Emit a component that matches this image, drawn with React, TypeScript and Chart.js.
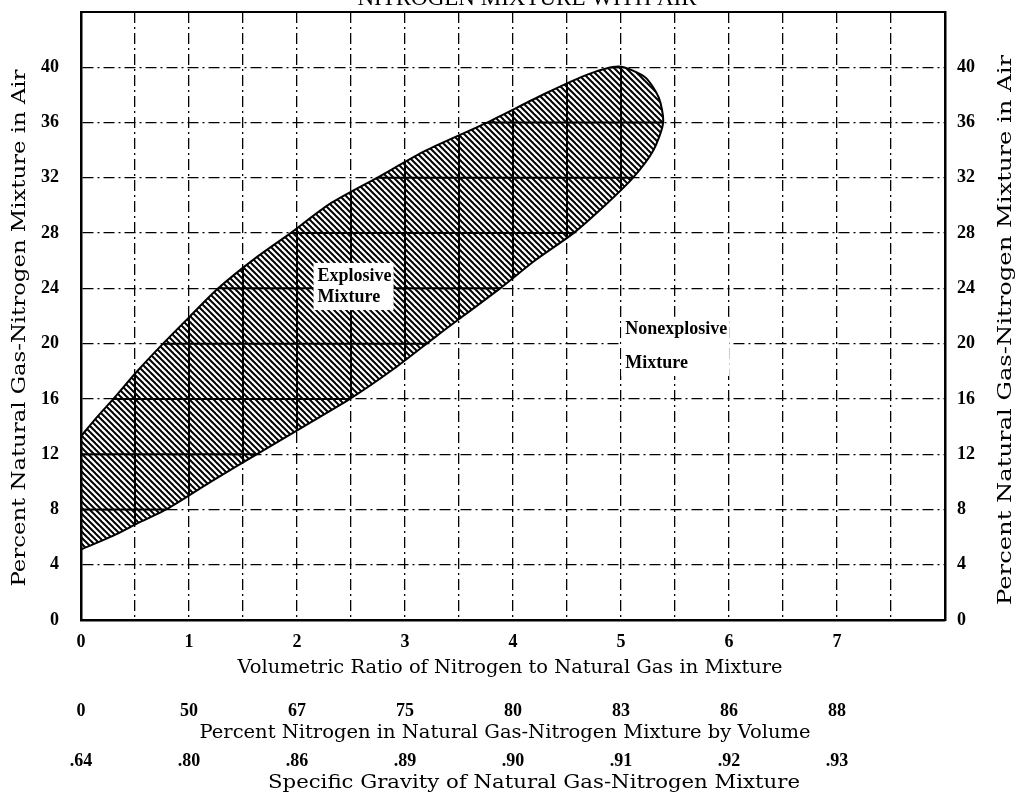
import React, { useEffect, useRef } from 'react';
import { Chart, registerables } from 'chart.js';

Chart.register(...registerables);

// ---- data ----
const CHART_TITLE = 'NITROGEN MIXTURE WITH AIR';
const ratioTicks = [0, 1, 2, 3, 4, 5, 6, 7];
const percentNitrogenLabels = ['0', '50', '67', '75', '80', '83', '86', '88'];
const specificGravityLabels = ['.64', '.80', '.86', '.89', '.90', '.91', '.92', '.93'];
const yAxisTitle = 'Percent Natural Gas-Nitrogen Mixture in Air';
const xAxisTitle = 'Volumetric Ratio of Nitrogen to Natural Gas in Mixture';
const x2AxisTitle = 'Percent Nitrogen in Natural Gas-Nitrogen Mixture by Volume';
const x3AxisTitle = 'Specific Gravity of Natural Gas-Nitrogen Mixture';

// explosive region outline (ratio, percent in air): lower edge from the left, round the tip, back along the upper edge
const regionRatio = [
  0, 0.3, 0.55, 0.79, 1.2, 1.63, 2.06, 2.49, 2.9, 3.3, 3.88, 4.2, 4.56, 4.85, 5.11, 5.3, 5.39, 5.35, 5.22, 4.98,
  4.7, 4.3, 3.76, 3.2, 2.74, 2.3, 1.94, 1.6, 1.27, 1.0, 0.76, 0.52, 0.3, 0.15, 0,
];
const regionPercent = [
  5.1, 6.1, 7.1, 8.0, 10.0, 12.0, 14.0, 16.0, 18.2, 20.6, 24.0, 26.0, 28.0, 30.0, 32.0, 34.0, 36.0, 37.8, 39.3, 40.05,
  39.5, 38.1, 36.0, 34.0, 32.0, 30.1, 28.0, 26.1, 24.0, 21.9, 20.0, 18.0, 16.0, 14.7, 13.3,
];

const explosiveLabel = ['Explosive', 'Mixture'];
const explosiveLabelAt = [2.19, 24.9, 23.37];
const nonexplosiveLabel = ['Nonexplosive', 'Mixture'];
const nonexplosiveLabelAt = [5.04, 21.0, 18.6];

const FONT = '"Liberation Serif", "DejaVu Serif", serif';
const TITLE_FONT = '"DejaVu Serif", "Liberation Serif", serif';

function makeHatch(): CanvasPattern | string {
  const c = document.createElement('canvas');
  const w = 6, h = 6;
  c.width = w; c.height = h;
  const g = c.getContext('2d');
  if (!g) return '#000';
  g.strokeStyle = '#000';
  g.lineWidth = 2;
  for (const ox of [-w, 0, w]) {
    g.beginPath();
    g.moveTo(ox - w, -h);
    g.lineTo(ox + 2 * w, 2 * h);
    g.stroke();
  }
  const p = g.createPattern(c, 'repeat');
  return p || '#000';
}

function drawFitted(ctx: CanvasRenderingContext2D, text: string, cx: number, cy: number, width: number, rotate: boolean) {
  ctx.save();
  ctx.font = `18px ${TITLE_FONT}`;
  ctx.fillStyle = '#000';
  ctx.textAlign = 'center';
  ctx.textBaseline = 'middle';
  const natural = ctx.measureText(text).width;
  ctx.translate(cx, cy);
  if (rotate) ctx.rotate(-Math.PI / 2);
  ctx.scale(width / natural, 1);
  ctx.fillText(text, 0, 0);
  ctx.restore();
}

// solid grid lines inside the hatched region
const regionGridPlugin = {
  id: 'regionGrid',
  afterDatasetsDraw(chart: any) {
    const { ctx, scales } = chart;
    const meta = chart.getDatasetMeta(0);
    if (!meta || !meta.dataset) return;
    ctx.save();
    ctx.beginPath();
    meta.dataset.path(ctx);
    ctx.closePath();
    ctx.clip();
    ctx.strokeStyle = '#000';
    ctx.lineWidth = 2;
    ctx.beginPath();
    scales.x.ticks.forEach((t: any) => {
      const px = scales.x.getPixelForValue(t.value);
      ctx.moveTo(px, chart.chartArea.top);
      ctx.lineTo(px, chart.chartArea.bottom);
    });
    scales.y.ticks.forEach((t: any) => {
      const py = scales.y.getPixelForValue(t.value);
      ctx.moveTo(chart.chartArea.left, py);
      ctx.lineTo(chart.chartArea.right, py);
    });
    ctx.stroke();
    ctx.restore();
  },
};

const decorPlugin = {
  id: 'decor',
  afterDraw(chart: any) {
    const { ctx, chartArea, scales } = chart;
    ctx.save();
    // top border
    ctx.strokeStyle = '#000';
    ctx.lineWidth = 2;
    ctx.beginPath();
    ctx.moveTo(chartArea.left - 1, chartArea.top);
    ctx.lineTo(chartArea.right + 1, chartArea.top);
    ctx.stroke();
    // clipped title at top
    ctx.fillStyle = '#000';
    ctx.font = `23px ${FONT}`;
    ctx.textAlign = 'center';
    ctx.textBaseline = 'alphabetic';
    ctx.fillText(CHART_TITLE, 527, 5);
    // axis titles
    const xb = scales.x, x2 = scales.x2, x3 = scales.x3;
    drawFitted(ctx, xAxisTitle, 510, xb.bottom - 12, 545, false);
    drawFitted(ctx, x2AxisTitle, 505, x2.bottom - 12, 611, false);
    drawFitted(ctx, x3AxisTitle, 534, x3.bottom - 15, 532, false);
    drawFitted(ctx, yAxisTitle, 20, 328, 517, true);
    drawFitted(ctx, yAxisTitle, 1006, 330, 550, true);
    // region labels
    const drawLabel = (lines: string[], at: number[], box: boolean) => {
      const x = scales.x.getPixelForValue(at[0]);
      ctx.font = `bold 18px ${FONT}`;
      const ws = lines.map((l) => ctx.measureText(l).width);
      const wmax = Math.max(...ws);
      const ys = [scales.y.getPixelForValue(at[1]), scales.y.getPixelForValue(at[2])];
      if (box) {
        ctx.fillStyle = '#fff';
        ctx.fillRect(x - 4, ys[0] - 13, wmax + 6, ys[1] - ys[0] + 26);
      }
      ctx.fillStyle = '#000';
      ctx.textAlign = 'left';
      ctx.textBaseline = 'middle';
      lines.forEach((l, i) => ctx.fillText(l, x, ys[i]));
    };
    drawLabel(explosiveLabel, explosiveLabelAt, true);
    drawLabel(nonexplosiveLabel, nonexplosiveLabelAt, true);
    ctx.restore();
  },
};

export default function App() {
  const ref = useRef<HTMLCanvasElement | null>(null);
  useEffect(() => {
    if (!ref.current) return;
    const tickFont = { family: FONT, size: 18, weight: 'bold' as const };
    const gridStyle = { color: '#000', lineWidth: 1.3, drawTicks: false };
    const noPad = (s: any) => { s.paddingTop = 0; s.paddingBottom = 0; };
    const chart = new Chart(ref.current, {
      type: 'scatter',
      data: {
        datasets: [
          {
            label: 'Explosive Mixture',
            data: regionRatio.map((r, i) => ({ x: r, y: regionPercent[i] })),
            showLine: true,
            fill: 'shape',
            backgroundColor: makeHatch() as any,
            borderColor: '#000',
            borderWidth: 2,
            pointRadius: 0,
            tension: 0.25,
          },
        ],
      },
      options: {
        responsive: false,
        animation: false,
        events: [],
        layout: { padding: { top: 12, left: 0, right: 0, bottom: 0 } },
        plugins: { legend: { display: false }, tooltip: { enabled: false }, title: { display: false } },
        scales: {
          x: {
            type: 'linear', position: 'bottom', min: 0, max: 8, weight: 0, z: 1,
            afterFit: (s: any) => { s.height = 60; },
            ticks: {
              stepSize: 0.5, autoSkip: false, maxRotation: 0, padding: 12, color: '#000', font: tickFont,
              callback: (v: any) => (ratioTicks.includes(v) ? String(v) : ''),
            },
            grid: gridStyle,
            border: { display: true, color: '#000', width: 2.5, dash: [11, 4, 2, 4] },
            title: { display: false },
          },
          x2: {
            type: 'linear', position: 'bottom', min: 0, max: 8, weight: 1,
            afterFit: (s: any) => { s.height = 65; },
            ticks: {
              stepSize: 1, autoSkip: false, maxRotation: 0, padding: 21, color: '#000', font: tickFont,
              callback: (v: any) => (ratioTicks.includes(v) ? percentNitrogenLabels[ratioTicks.indexOf(v)] : ''),
            },
            grid: { display: false, drawTicks: false },
            border: { display: false },
            title: { display: false },
          },
          x3: {
            type: 'linear', position: 'bottom', min: 0, max: 8, weight: 2,
            afterFit: (s: any) => { s.height = 53; },
            ticks: {
              stepSize: 1, autoSkip: false, maxRotation: 0, padding: 6, color: '#000', font: tickFont,
              callback: (v: any) => (ratioTicks.includes(v) ? specificGravityLabels[ratioTicks.indexOf(v)] : ''),
            },
            grid: { display: false, drawTicks: false },
            border: { display: false },
            title: { display: false },
          },
          y: {
            type: 'linear', position: 'left', min: 0, max: 44, z: 1,
            afterFit: (s: any) => { s.width = 81; noPad(s); },
            ticks: {
              stepSize: 4, padding: 22, color: '#000', font: tickFont,
              callback: (v: any) => (v <= 40 ? String(v) : ''),
            },
            grid: gridStyle,
            border: { display: true, color: '#000', width: 2.5, dash: [11, 4, 2, 4] },
            title: { display: false },
          },
          y2: {
            type: 'linear', position: 'right', min: 0, max: 44, z: 1,
            afterFit: (s: any) => { s.width = 74; noPad(s); },
            ticks: {
              stepSize: 4, padding: 12, color: '#000', font: tickFont,
              callback: (v: any) => (v <= 40 ? String(v) : ''),
            },
            grid: { display: false, drawTicks: false },
            border: { display: true, color: '#000', width: 2.5 },
            title: { display: false },
          },
        },
      },
      plugins: [regionGridPlugin, decorPlugin],
    } as any);
    return () => chart.destroy();
  }, []);
  return (
    <div style={{ position: 'absolute', left: 0, top: 0, width: 1019, height: 798, background: '#fff' }}>
      <canvas ref={ref} width={1019} height={798} style={{ display: 'block' }} />
    </div>
  );
}
